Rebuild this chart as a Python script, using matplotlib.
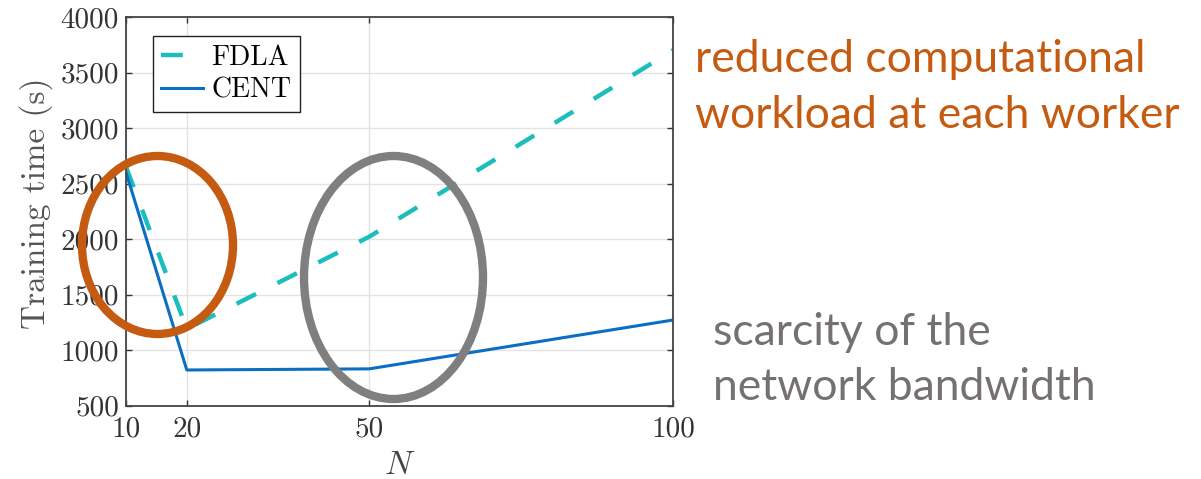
import matplotlib as mpl
mpl.rcParams['font.family'] = 'cmr10'
mpl.rcParams['mathtext.fontset'] = 'cm'
mpl.rcParams['axes.formatter.use_mathtext'] = True
import matplotlib.pyplot as plt
from matplotlib.patches import Ellipse

# Training time vs. number of workers
n_workers = [10, 20, 50, 100]
fdla_time = [2650, 1190, 2020, 3700]
cent_time = [2600, 820, 830, 1270]
y_ticks = [500, 1000, 1500, 2000, 2500, 3000, 3500, 4000]

W, H = 1201, 479
fig = plt.figure(figsize=(W / 100, H / 100), dpi=100)
ax = fig.add_axes([126 / W, 1 - 405.5 / H, 547 / W, 388.5 / H])

ax.plot(n_workers, fdla_time, color='#1CBDBD', linewidth=3.2, dashes=(4.9, 5.4), label='FDLA')
ax.plot(n_workers, cent_time, color='#0A6FC2', linewidth=2.2, label='CENT')

ax.set_xlim(10, 100)
ax.set_ylim(500, 4000)
ax.set_xticks(n_workers)
ax.set_xticklabels([str(n) for n in n_workers])
ax.set_yticks(y_ticks)
ax.set_yticklabels([str(v) for v in y_ticks])
ax.grid(True, color='#E3E3E3', linewidth=1.0)
ax.set_axisbelow(True)
ax.tick_params(axis='both', which='major', direction='in', length=4, width=1,
               top=True, right=True, labelsize=21, colors='#333333')
ax.tick_params(axis='x', pad=8)
ax.tick_params(axis='y', pad=5)
for s in ax.spines.values():
    s.set_color('#444444')
    s.set_linewidth(1.3)
ax.set_xlabel(r'$N$', fontsize=24, color='#444444', labelpad=6)
ax.set_ylabel('Training time (s)', fontsize=24, color='#555555', labelpad=4)
ax.yaxis.set_label_coords(-0.134, 0.52)

leg = ax.legend(loc='upper left', bbox_to_anchor=(153 / W, 1 - 36 / H),
                bbox_transform=fig.transFigure, fontsize=20, fancybox=False,
                framealpha=1, edgecolor='#222222', handlelength=1.5,
                handletextpad=0.3, borderpad=0.3, labelspacing=0.25,
                borderaxespad=0)
leg.get_frame().set_linewidth(1.0)

# Highlight ellipses (pixel geometry converted to figure fraction)
def ring(cx, cy, w, h, color):
    fig.add_artist(Ellipse((cx / W, 1 - cy / H), w / W, h / H, fill=False,
                           edgecolor=color, linewidth=6, transform=fig.transFigure,
                           zorder=10))

ring(157.5, 245, 151, 178, '#C55A11')
ring(393.5, 277.5, 179, 243, '#7F7F7F')

# Annotations
note_font = 'Lato'
fig.text(695 / W, 1 - 72 / H, 'reduced computational', fontsize=32, color='#C55A11',
         family=note_font, va='baseline', ha='left')
fig.text(695 / W, 1 - 128 / H, 'workload at each worker', fontsize=32, color='#C55A11',
         family=note_font, va='baseline', ha='left')
fig.text(713 / W, 1 - 345 / H, 'scarcity of the', fontsize=32, color='#767171',
         family=note_font, va='baseline', ha='left')
fig.text(713 / W, 1 - 400 / H, 'network bandwidth', fontsize=32, color='#767171',
         family=note_font, va='baseline', ha='left')

fig.savefig('out.png', dpi=100)
